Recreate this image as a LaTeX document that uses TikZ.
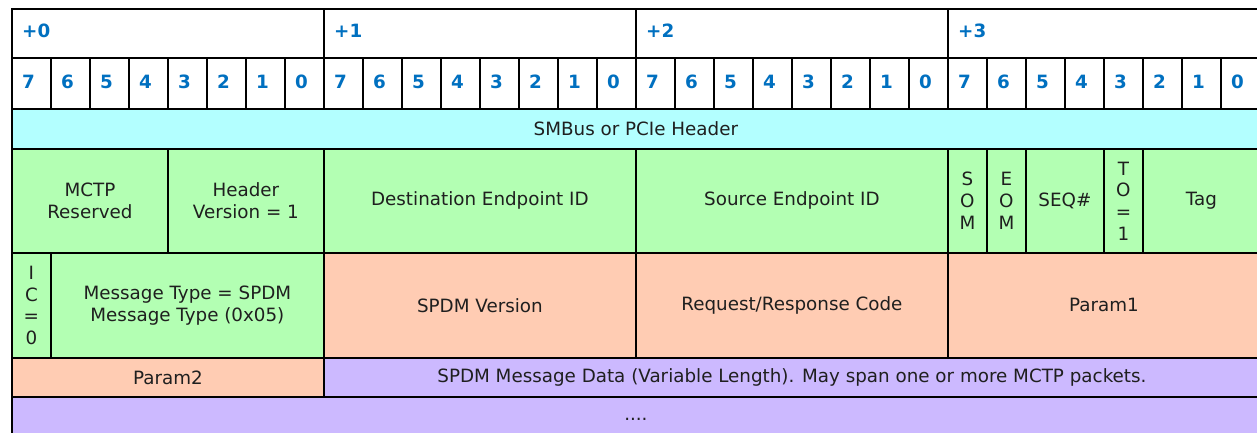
\documentclass[tikz,border=0pt]{standalone}
\usepackage{fontspec}
\setmainfont{DejaVu Sans}
\usepackage{xcolor}
\usetikzlibrary{positioning}
\definecolor{hdrblue}{RGB}{0,112,192}
\definecolor{smbcyan}{RGB}{179,255,255}
\definecolor{mctpgreen}{RGB}{179,255,179}
\definecolor{spdmsalmon}{RGB}{255,204,179}
\definecolor{datapurple}{RGB}{204,185,255}
\tikzset{
  fld/.style  = {draw, line width=1.8pt, inner sep=0pt, align=center, anchor=north west,
                 text=black!88, font=\fontsize{18.3}{21.7}\selectfont},
  hdr/.style  = {fld, fill=white},
  num/.style  = {inner sep=0pt, anchor=base west, text=hdrblue, font=\fontsize{18.3}{21.7}\selectfont\bfseries},
  cyan/.style = {fld, fill=smbcyan},
  grn/.style  = {fld, fill=mctpgreen},
  slm/.style  = {fld, fill=spdmsalmon},
  prp/.style  = {fld, fill=datapurple}
}

\begin{document}
\begin{tikzpicture}
\useasboundingbox (0,0) rectangle (1257pt,-432pt);
\clip (0,0) rectangle (1257pt,-432pt);
% byte offsets
\foreach \b in {0,1,2,3} {
  \node[hdr, minimum width=312pt, minimum height=49pt] (byte\b) at ({(11+312*\b)*1pt},-8pt) {};
  \node[num] (off\b) at ([shift={(11pt,-4.2pt)}]byte\b.west) {+\b};
}
% bit numbers
\foreach \b in {0,1,2,3} {
  \foreach \i in {0,...,7} {
    \pgfmathtruncatemacro{\bit}{7-\i}
    \node[hdr, minimum width=39pt, minimum height=51pt] (bit\b\i) at ({(11+312*\b+39*\i)*1pt},-57pt) {};
    \node[num] (lbl\b\i) at ([shift={(11pt,-5.4pt)}]bit\b\i.west) {\bit};
  }
}

% transport header
\node[cyan, minimum width=1248pt, minimum height=40pt] (smbus) at (11pt,-108pt) {SMBus or PCIe Header};

% MCTP header
\node[grn, minimum width=156pt, minimum height=104pt] (rsvd) at (11pt,-148pt) {MCTP\\Reserved};
\node[grn, minimum width=156pt, minimum height=104pt] (hver) at (167pt,-148pt) {Header\\Version = 1};
\node[grn, minimum width=312pt, minimum height=104pt] (dest) at (323pt,-148pt) {Destination Endpoint ID};
\node[grn, minimum width=312pt, minimum height=104pt] (src) at (635pt,-148pt) {Source Endpoint ID};
\node[grn, minimum width=39pt, minimum height=104pt] (som) at (947pt,-148pt) {S\\O\\M};
\node[grn, minimum width=39pt, minimum height=104pt] (eom) at (986pt,-148pt) {E\\O\\M};
\node[grn, minimum width=78pt, minimum height=104pt] (seq) at (1025pt,-148pt) {SEQ\#};
\node[grn, minimum width=39pt, minimum height=104pt] (to) at (1103pt,-148pt) {T\\O\\=\\1};
\node[grn, minimum width=117pt, minimum height=104pt] (tag) at (1142pt,-148pt) {Tag};

% message header
\node[grn, minimum width=39pt, minimum height=105pt] (ic) at (11pt,-252pt) {I\\C\\=\\0};
\node[grn, minimum width=273pt, minimum height=105pt] (mtype) at (50pt,-252pt) {Message Type = SPDM\\Message Type (0x05)};
\node[slm, minimum width=312pt, minimum height=105pt] (ver) at (323pt,-252pt) {SPDM Version};
\node[slm, minimum width=312pt, minimum height=105pt] (code) at (635pt,-252pt) {Request/Response Code};
\node[slm, minimum width=312pt, minimum height=105pt] (p1) at (947pt,-252pt) {Param1};

% payload
\node[slm, minimum width=312pt, minimum height=39pt] (p2) at (11pt,-357pt) {Param2};
\node[prp, minimum width=936pt, minimum height=39pt] (data) at (323pt,-357pt) {SPDM Message Data (Variable Length). May span one or more MCTP packets.};
\node[prp, minimum width=1248pt, minimum height=44pt] (more) at (11pt,-396pt) {....};
\end{tikzpicture}
\end{document}
